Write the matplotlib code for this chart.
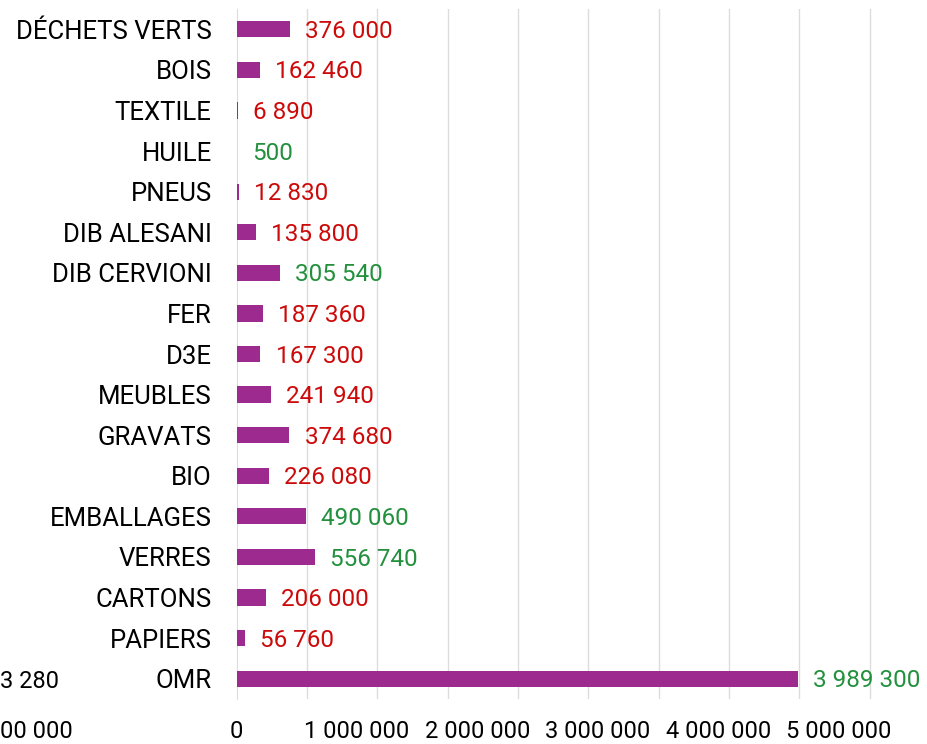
import matplotlib
matplotlib.use("Agg")
import matplotlib.pyplot as plt

plt.rcParams["font.family"] = ["Roboto", "DejaVu Sans"]

# categories from bottom to top
categories = ["OMR", "PAPIERS", "CARTONS", "VERRES", "EMBALLAGES", "BIO",
              "GRAVATS", "MEUBLES", "D3E", "FER", "DIB CERVIONI", "DIB ALESANI",
              "PNEUS", "HUILE", "TEXTILE", "BOIS", "DÉCHETS VERTS"]
values = [3989300, 56760, 206000, 556740, 490060, 226080,
          374680, 241940, 167300, 187360, 305540, 135800,
          12830, 500, 6890, 162460, 376000]
labels = ["3 989 300", "56 760", "206 000", "556 740", "490 060", "226 080",
          "374 680", "241 940", "167 300", "187 360", "305 540", "135 800",
          "12 830", "500", "6 890", "162 460", "376 000"]
label_good = [True, False, False, True, True, False,
              False, False, False, False, True, False,
              False, True, False, False, False]
axis_ticks = [0, 1000000, 2000000, 3000000, 4000000, 5000000]
axis_ticklabels = ["0", "1 000 000", "2 000 000", "3 000 000", "4 000 000", "5 000 000"]
grid_ticks = [500000 * i for i in range(1, 11)]

bar_color = "#9c2a8f"
red = "#cc0a0a"
green = "#23903d"

W, H = 927, 744
fig = plt.figure(figsize=(W / 100, H / 100), dpi=100)
ax = fig.add_axes([236.7 / W, (H - 699) / H, 703.3 / W, 690 / H])

y = list(range(len(categories)))
ax.barh(y, values, height=0.4, color=bar_color, zorder=3)
for yi, v, lab, good in zip(y, values, labels, label_good):
    ax.annotate(lab, (v, yi), xytext=(11, -1.5), textcoords="offset points",
                ha="left", va="center", fontsize=17.5,
                color=green if good else red, zorder=4)

ax.set_xlim(0, 5000000)
ax.set_ylim(-0.5, len(categories) - 0.5)
ax.set_yticks(y)
ax.set_yticklabels(categories, fontsize=18.5)
ax.tick_params(axis="y", length=0, pad=18)

ax.set_xticks(grid_ticks)
ax.tick_params(axis="x", length=0, labelbottom=False)
ax.grid(axis="x", color="#dcdcdc", linewidth=1, zorder=0)

for s in ["top", "right", "bottom"]:
    ax.spines[s].set_visible(False)
ax.spines["left"].set_color("#dcdcdc")
ax.spines["left"].set_zorder(2)

# bottom labels use their own (narrower) scale, as in the original picture
k = 140.67 / 120.4
sec = ax.secondary_xaxis("bottom", functions=(lambda x: x * k, lambda x: x / k))
sec.set_xticks(axis_ticks)
sec.set_xticklabels(axis_ticklabels, fontsize=17)
sec.tick_params(length=0, pad=15)
sec.spines["bottom"].set_visible(False)

# leftovers of a neighbouring chart cut at the left edge
fig.text(0, (H - 682) / H, "3 280", fontsize=17, ha="left", va="center")
fig.text(0, (H - 732) / H, "00 000", fontsize=17, ha="left", va="center")

fig.savefig("out.png", dpi=100)
